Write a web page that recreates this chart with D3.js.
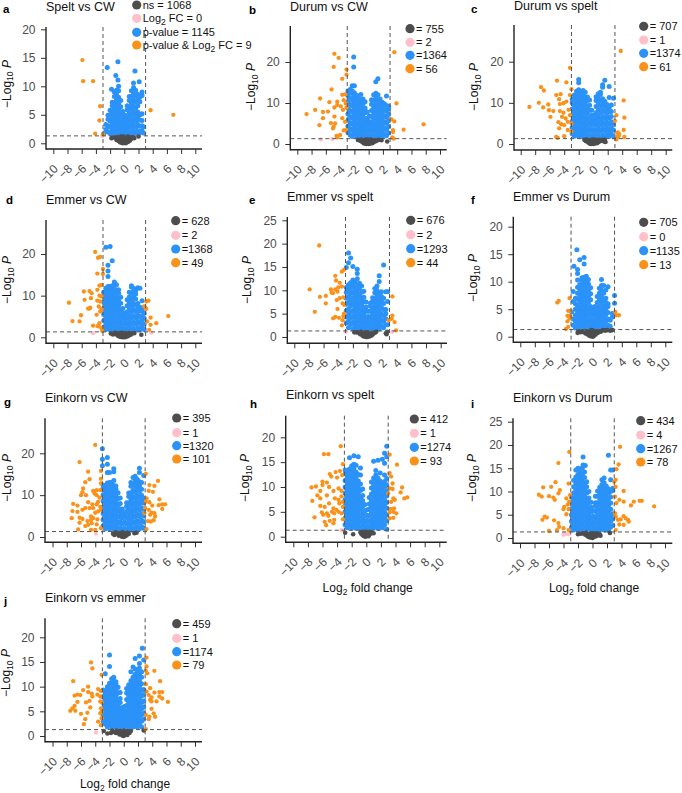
<!DOCTYPE html>
<html><head><meta charset="utf-8">
<script src="https://cdn.jsdelivr.net/npm/d3@7"></script>
<style>html,body{margin:0;background:#fff}svg{display:block}text{font-family:"Liberation Sans",Arial,sans-serif}</style>
</head><body><svg id="c" width="682" height="793"></svg>
<script>
// ---------- data: panel labels ----------
const letters=["a","b","c","d","e","f","g","h","i","j"];
const titles=["Spelt vs CW","Durum vs CW","Durum vs spelt","Emmer vs CW","Emmer vs spelt","Emmer vs Durum","Einkorn vs CW","Einkorn vs spelt","Einkorn vs Durum","Einkorn vs emmer"];
const countsNs=["1068","755","707","628","676","705","395","412","434","459"];
const countsFc=["0","2","1","2","2","0","1","1","4","1"];
const countsP=["1145","1364","1374","1368","1293","1135","1320","1274","1267","1174"];
const countsBoth=["9","56","61","49","44","13","101","93","78","79"];
const xTicks=[-10,-8,-6,-4,-2,0,2,4,6,8,10];
const yTicksA=[0,5,10,15,20],yTicksB=[0,10,20],yTicksE=[0,5,10,15,20,25],yTicksH=[0,5,10,15,20];
const fcCut=3,pCut=1.3;

// ---------- data: blue columns, [log2FC, -log10P, -log10P, ...] ----------
const blueA=[[-2.9,1.7],[-2.6,2.4,3.3],[-2.4,13.3],[-2.3,2,3.1,4.2,4.9],[-2,1.7,2.8,3.9,5,5.8],[-1.8,9.5],[-1.7,2.2,3.3,4.4,5.5,6.6,7.2],[-1.4,1.6,2.7,3.8,4.9,6,7.1,8.2,9],[-1.2,11.9],[-1.1,2.1,3.2,4.3,5.4,6.5,7.6,8.7,9.3],[-.9,11.1,14.3],[-.8,1.5,2.6,3.7,4.8,5.9,7,8.1,9.2,10],[-.5,2,3.1,4.2,5.3,6.4,7.5],[-.2,1.5,2.6,3.7,4.8,5.6],[.1,2,3.1,4.2,4.9],[.4,1.5,2.6,3.7,4.8,5.9,6.6],[.7,2,3.1,4.2,5.3,6.4,7.5,8.2],[1,1.6,2.7,3.8,4.9,6,7.1,8.2,9.2],[1.3,2.1,3.2,4.3,5.4,6.5,7.6,8.7,9.8,10.6],[1.5,12.7],[1.6,1.7,2.8,3.9,5,6.1,7.2,8.3,9.3],[1.9,2.2,3.3,4.4,5.5,6.6,7.7,8.6],[2.1,10.8],[2.2,1.9,3,4.1,5,7.3,8.1],[2.5,2.2,3.1,4,5.2,8.4,9],[2.7,1.8,2.9]];
const blueB=[[-2.9,2.8,4.3,5.8,7.3,8.8,10.3,11.8,12.9],[-2.6,2.2,3.7,5.2,6.7,8.2,9.7,11.2,12.7,13.3],[-2.3,1.8,3.3,4.8,6.3,7.8,9.3,10.8,12.3,13,14.2],[-2.1,18.8,21.2],[-2,2.5,4,5.5,7,8.5,10,11.5,12.5,14.2],[-1.7,1.8,3.3,4.8,6.3,7.8,9.3,10.8,11.9],[-1.4,2.4,3.9,5.4,6.9,8.4,9.9,11.1],[-1.1,1.7,3.2,4.7,6.2,7.7,9.2,10.7,12.1],[-.8,2.3,3.8,5.3,6.8,8.3,9.8,11],[-.5,1.6,3.1,4.6,6.1,7.6,8.8,10.3],[-.2,2.2,3.7,5.2,6.3,7.8],[.1,1.6,3.1,4.6,5.5,6.8],[.4,2.2,3.7,5.2,6.7,8.2,9.7,10.8],[.7,1.6,3.1,4.6,6.1,7.6,9.1,10.6,12],[1,2.2,3.7,5.2,6.7,8.2,9.7,11.2,12.4,15.2],[1.3,1.6,3.1,4.6,6.1,7.6,9.1,10.6,12,15.9],[1.6,2.3,3.8,5.3,6.8,8.3,9.8,11],[1.9,1.7,3.2,4.7,6.2,7.7,9.2,10.2],[2.2,2.4,3.9,5.4,6.9,8.4,9.8],[2.5,2,3.5,5,6.5,8,9.4,11.7],[2.8,2.7,4.2,5.7,7.2,8.6,9.2]];
const blueC=[[-2.9,2.5,4,5.5,7,8.5,10,10.9],[-2.6,1.9,3.4,4.9,6.4,7.9,9.4,10.9,11.9],[-2.3,2.6,4.1,5.6,7.1,8.6,10.1,11.6,12.8],[-2,1.8,3.3,4.8,6.3,7.8,9.3,10.8,12.3,13.2,14.9,15.7],[-1.7,2.4,3.9,5.4,6.9,8.4,9.9,11.4,12.5],[-1.4,1.7,3.2,4.7,6.2,7.7,9.2,10.7,12,13],[-1.1,2.3,3.8,5.3,6.8,8.3,9.8,11.3,12.6],[-.8,1.6,3.1,4.6,6.1,7.6,9.1,10.6,11.4],[-.5,2.2,3.7,5.2,6.7,8.2,9.4,10.7],[-.2,1.6,3.1,4.6,6,7,8.2],[.1,2.1,3.6,5.1,5.9,7],[.4,1.6,3.1,4.6,6.1,7.6,9.1,10.6,11.5],[.7,2.2,3.7,5.2,6.7,8.2,9.7,11.2,12.2],[1,1.6,3.1,4.6,6.1,7.6,9.1,10.6,12,12.6],[1.3,2.2,3.7,5.2,6.7,8.2,9.7,11,13.8,14.4],[1.6,1.7,3.2,4.7,6.2,7.7,9.2,10.4,15.5],[1.9,2.3,3.8,5.3,6.8,8.3,9.6],[2.2,1.8,3.3,4.8,6.3,7.8,8.8,11.3,14],[2.5,2.4,3.9,5.4,6.7,7.9,9.5],[2.8,1.9,3.4,4.8,11.1]];
const blueD=[[-2.9,2.5,4,5.5,7,8.5,9.9,10.8],[-2.6,1.9,3.4,4.9,6.4,7.9,9.4,10.9,11.8,21.6],[-2.3,2.6,4.1,5.6,7.1,8.6,10.1,11.6,12.2,14.6,15.9,17.3],[-2,1.8,3.3,4.8,6.3,7.8,9.3,10.8,12.2,21.8],[-1.7,2.4,3.9,5.4,6.9,8.4,9.9,11.4,12.4,18.4],[-1.4,1.7,3.2,4.7,6.2,7.7,9.2,10.7,12.2,13.3],[-1.1,2.3,3.8,5.3,6.8,8.3,9.8,11.3,12.6],[-.8,1.6,3.1,4.6,6.1,7.6,9.1,10.6,11.4],[-.5,2.2,3.7,5.2,6.7,8.2,9.6],[-.2,1.6,3.1,4.6,5.9,6.9],[.1,2.1,3.4,4.3,5.2],[.4,1.6,3.1,4.6,6.1,7.6,9],[.7,2.2,3.7,5.2,6.7,8.2,9.7,10.8],[1,1.6,3.1,4.6,6.1,7.6,9.1,10.6,12.1,12.4],[1.3,2.2,3.7,5.2,6.7,8.2,9.7,11,11.8],[1.6,1.7,3.2,4.7,6.2,7.7,9.2,10.4,11.2],[1.9,2.3,3.8,5.3,6.8,8.1,11.9],[2.2,1.8,3.3,4.8,6.3,7.2,11.8],[2.5,2.4,3.9,5.2,6.5,8.8],[2.8,1.9,3.2,4.6,5.8,7.2]];
const blueE=[[-2.9,3,4.3,5.6,7,8.3,9.6,10.6,14.9],[-2.6,2,3.4,4.7,6,7.4,8.7,10,11.2,15.9,18],[-2.3,2.7,4,5.3,6.7,8,9.3,10.6,11.6,16.9],[-2,1.7,3.1,4.4,5.7,7.1,8.4,9.7,11,12.2,15.1],[-1.7,2.3,3.6,5,6.3,7.6,9,10.3,11.8],[-1.4,1.6,3,4.3,5.6,7,8.3,9.6,11,12.5,13.6,14.5],[-1.1,2.3,3.6,4.9,6.3,7.6,8.9,10.3,11.5],[-.8,1.6,3,4.3,5.6,7,8.3,9.6,10.9],[-.5,2.2,3.6,4.9,6.2,7.6,8.5,9.8],[-.2,1.6,2.9,4.2,5.5,6.4,7.5],[.1,2.2,3.4,4.4,5.5],[.4,1.6,2.9,4.2,5.5,6.6,7.3],[.7,2.2,3.6,4.9,6.2,7.6,8.4],[1,1.6,2.9,4.2,5.5,6.9,8.2,9.5,10.4],[1.3,2.3,3.6,4.9,6.3,7.6,8.9,10,10.9],[1.6,1.7,3,4.3,5.6,7,8.3,9.5,11.9,13.1],[1.9,2.4,3.7,5,6.3,7.6,8.7,9.7],[2.2,2,3.3,4.6,5.9,7.2,8.3,15.4],[2.5,2.6,3.9,5,5.9,9.7],[2.75,2.6,7.6,9.7]];
const blueF=[[-2.9,4.5],[-2.7,2.1,3.2,6.4,8.2],[-2.6,12.8],[-2.4,1.6,2.8,3.9,5,6,7],[-2.2,15.8],[-2.1,2.2,3.3,4.5,5.6,6.8,7.9,9,10.3,11.5,12.2],[-1.8,1.7,2.8,4,5.1,6.3,7.4,8.6,9.5,14],[-1.5,2.2,3.4,4.5,5.7,6.8,8,9.1,10.2,10.7],[-1.2,1.6,2.8,3.9,5.1,6.2,7.4,8.5,9.7,10.8,13.2,14.4],[-.9,2.2,3.3,4.5,5.6,6.8,7.9,9.1,10.2,11],[-.6,1.6,2.7,3.9,5,6.2,7.3,8.5,9.6,10.4],[-.3,2.1,3.2,4.4,5.5,6.7,7.8,8.9],[0,1.6,2.7,3.9,5],[.3,2.1,3.2,4.4,5.5],[.6,1.6,2.7,3.9,5,6.2,7.3],[.9,2.1,3.3,4.4,5.6,6.7,7.9,8.8],[1.2,1.6,2.7,3.9,5,6.2,7.3,8.5,9.3,10.4],[1.5,2.2,3.3,4.5,5.6,6.8,7.9,9.3],[1.8,1.7,2.8,4,5.1,6.2,7,8.5],[2.1,2.1,3.2,4.4,5.5,6,9.1],[2.4,1.9,3],[2.7,3.6,4.2],[3,6.1,7.5]];
const blueG=[[-3,17,18.6,21.1],[-2.9,2.6,4.1,5.6,7.1,8.6,10.1,11.6,12.4],[-2.6,2,3.5,5,6.5,8,9.5,11,12.3],[-2.3,2.7,4.2,5.7,7.2,8.7,10.2,11.7,12.9,15.4,17.4,19],[-2,1.9,3.4,4.9,6.4,7.9,9.4,10.9,12.4,13,15.4],[-1.7,2.5,4,5.5,7,8.5,10,11.5,13],[-1.4,1.8,3.3,4.8,6.3,7.8,9.3,10.8,12.3,13.5,15.6,16.3],[-1.1,2.4,3.9,5.4,6.9,8.4,9.9,11.4,12.2],[-.8,1.7,3.2,4.7,6.2,7.7,9.2,10.6],[-.5,2.2,3.7,5.2,6.7,8,9.3],[-.2,1.6,3.1,4.6,5.9,6.7],[.1,2.1,3.6,4.8,5.6],[.4,1.6,3.1,4.6,6.1,7.3,8.2],[.7,2.2,3.7,5.2,6.7,8.2,9.7,10.5],[1,1.6,3.1,4.6,6.1,7.6,9.1,10.6,12.1,13],[1.3,2.2,3.7,5.2,6.7,8.2,9.7,11.2,12.7,14.2],[1.6,1.7,3.2,4.7,6.2,7.7,9.2,10.7,12.2,13.7,14.5],[1.9,2.4,3.9,5.4,6.9,8.4,9.9,11.4,12.9,13.8],[2.2,1.9,3.4,4.9,6.4,7.9,9.4,10.9,12.2,13.2,15.4,16.4],[2.5,2.5,4,5.5,7,8.5,10,11.4,13],[2.8,2.1,3.6,5.1,6.6,8.1,9.2,14.7]];
const blueH=[[-2.9,2.4,3.7,5,6.2,7.5,8.8,10,11.3,12.6,13.4],[-2.6,1.8,3,4.3,5.6,6.8,8.1,9.4,10.6,11.9,13.1],[-2.3,2.4,3.6,4.9,6.2,7.4,8.7,10,11.2,12.5,13.6,15.9],[-2,1.7,3,4.3,5.5,6.8,8.1,9.3,10.6,11.9,13.1,14.3],[-1.7,2.3,3.6,4.9,6.1,7.4,8.7,9.9,11.2,12.5,13.7,14.6,16.3],[-1.4,1.7,3,4.3,5.5,6.8,8,9.3,10.6,11.8,13,14.4],[-1.1,2.3,3.6,4.9,6.1,7.4,8.7,9.9,11.2,12.5,16.1],[-.8,1.7,3,4.2,5.5,6.8,8,9.3,10.6,12.4,13.8],[-.5,2.3,3.5,4.8,6.1,7.3,8.3,9.6],[-.2,1.7,2.9,4.2,5.2,6.5],[.1,2.1,3.3,4.3,5.4],[.4,1.7,2.9,4.2,5.5,6.6,7.9],[.7,2.3,3.5,4.8,6.1,7.3,8.6,9.8,11],[1,1.7,2.9,4.2,5.5,6.7,8,9.3,10.5,11.8,15.2],[1.3,2.3,3.6,4.8,6.1,7.4,8.6,9.9,11.2,12.4,13.3],[1.6,1.7,3,4.2,5.5,6.8,8,9.3,10.6,11.8,15.4],[1.9,2.3,3.6,4.9,6.1,7.4,8.6,9.9,11.2,12.8],[2.2,1.8,3,4.3,5.6,6.8,8.1,9.4,10.6,15.6],[2.5,2.4,3.7,4.9,6.2,7.4,8.7,10,11.1,12.4,14.8,16.8],[2.8,1.5,3.2,4.4,5.7,6.9,8.2,9.2,10.4,11.7,16.1,18.2]];
const blueI=[[-2.9,2.3,3.6,5,6.3,7.7,8.8],[-2.6,1.7,3,4.3,5.7,7,8.4,9.7,11,12.4],[-2.3,2.3,3.7,5,6.4,7.7,9,10.4,11.7,13.1,14.6],[-2,1.7,3,4.3,5.7,7,8.4,9.7,11,12.4,13.7,15],[-1.7,2.3,3.7,5,6.4,7.7,9,10.4,11.7,13.1,14.4,14.9],[-1.4,1.7,3,4.3,5.7,7,8.4,9.7,11,12.4,13.7,15],[-1.3,15.7,17.4],[-1.1,2.3,3.7,5,6.4,7.7,9,10.4,11.7,13,14.2],[-1,15.6],[-.8,1.7,3,4.3,5.7,7,8.4,9.7,11,12.1],[-.5,2.3,3.6,4.9,6.3,7.6,8.6,10],[-.2,1.7,3,4.3,5.6,6.6,7.7],[.1,2.2,3.5,4.7,5.9],[.4,1.7,3,4.3,5.7,6.9,7.6,9],[.7,2.3,3.6,4.9,6.3,7.6,9,10.1],[1,1.7,3,4.3,5.7,7,8.4,9.7,10.9],[1.3,2.3,3.6,5,6.3,7.7,9,10.4,11.5,12.5],[1.6,1.7,3,4.3,5.7,7,8.4,9.7,11,11.9,12.9],[1.9,2.3,3.6,5,6.3,7.7,9,10.4,11.2],[2.2,1.7,3,4.3,5.7,7,8.4,9.7,10.6,17.8],[2.5,2.3,3.6,4.9,6.2,7.5,8.8,10,12.5,14.6],[2.8,2.7,4.1,5.2,10.2,10.7,14.6]];
const blueJ=[[-2.9,3,4.3,5.5,6.8,8,9.3],[-2.6,2.4,3.6,4.9,6.2,7.4,8.7,12.6],[-2.3,1.8,3,4.3,5.5,6.8,8.1,9.3,10],[-2,2.4,3.6,4.9,6.2,7.4,8.7,10,10.7,14.1,16.4],[-1.7,1.8,3,4.3,5.5,6.8,8.1,9.3,10.6,11.6],[-1.4,2.4,3.6,4.9,6.2,7.4,8.7,10,11.2,11.9],[-1.1,1.8,3,4.3,5.5,6.8,8.1,9.3,10.6,11],[-.8,2.4,3.6,4.9,6.2,7.4,8.7,9.9],[-.5,1.8,3,4.3,5.5,6.8,7.6,8.8],[-.2,2.4,3.6,4.8,5.8],[.1,1.8,3,4.2,5.2,6],[.4,2.4,3.6,4.9,6.2,7.4,8.7,9.6],[.7,1.8,3,4.3,5.5,6.8,8.1,9.3,10.4],[1,2.4,3.6,4.9,6.2,7.4,8.7,10,11.2,13],[1.3,1.8,3,4.3,5.5,6.8,8.1,9.3,10.6,11.9,14],[1.6,2.4,3.6,4.9,6.2,7.4,8.7,10,11.2,12.5,13.6,15.7],[1.9,1.8,3,4.3,5.5,6.8,8.1,9.3,10.6,11.9,13.2],[2.2,2.4,3.6,4.9,6.2,7.4,8.7,10,11.2,12.5,13.8,14.7,16.2],[2.5,1.8,3,4.3,5.5,6.8,8.1,9.3,10.6,11.9,13],[2.6,17.8],[2.8,3.4,4.6,5.9,7.1,8.4,9.4,15.4]];

// ---------- data: orange points ----------
const orangeA=[[-5.9,14.6],[-5.8,10.9],[-4.4,10.9],[-3.4,6.5],[-3.5,4],[-4.1,1.7],[-3,1.6],[3.7,5.8],[6.9,5]];
const orangeB=[[-4.8,22],[-4.2,21],[-4.9,18.8],[-3.1,18.2],[-3.1,16.9],[-3.7,15.9],[-5.2,13.3],[-6.8,11.1],[-5.5,10.2],[-7.5,8.3],[-8.7,7.3],[-6.4,7.8],[-5.7,7.9],[-6.4,6.3],[-6.9,4.6],[-5.3,5.1],[-4.7,5],[-4.8,6.7],[-4.8,8.9],[-4.4,10.3],[-4.4,9.5],[-3.9,9.2],[-3.2,9.9],[-3.7,12],[-3.3,12.1],[-3.5,10.7],[-3.1,8.9],[-3.6,8.3],[-3.7,6.3],[-3.3,5.4],[-3.5,3.3],[-3.2,3.4],[-4.5,2],[-4,2.2],[-4.4,1.6],[-4.9,4.2],[-5,3.8],[3.6,22.4],[3.9,9.9],[3.2,6],[3.6,5.5],[3.4,3.4],[3.4,2.9],[3.3,1.6],[3.5,1.3],[4.9,3.5],[7.7,4.8]];
const orangeC=[[3.8,22.6],[-3.2,18.5],[-5,15.4],[-3.7,15],[-7.2,13.8],[-6.8,13],[-3,13.3],[-3.2,11.9],[-4.5,12.1],[-5.1,11.9],[-4.7,10.9],[-7.5,10],[-8.8,9],[-6.9,8.9],[-6.2,9.6],[-6.1,8.2],[-5.5,8],[-5.9,6.6],[-4.6,9.7],[-4.1,9.9],[-3.7,10.3],[-4.6,8],[-4.1,7.6],[-3.4,8.3],[-4.3,6.6],[-3.8,6.2],[-3.2,7],[-4.8,5.3],[-4.4,4.8],[-4,4.6],[-3.5,5.4],[-3,5],[-4.7,3.8],[-3.5,3.4],[-3,3],[-5.1,1.7],[-4.9,1.5],[-4,1.9],[4.2,10.6],[4.3,6.4],[3.2,7],[3,5.6],[4.2,3.4],[4.3,1.7],[3.4,2.8],[3.6,2.4],[3.3,1.9],[3.5,1.8],[3.2,1.1]];
const orangeD=[[-4.1,20.5],[-3.7,19.1],[-3.4,19.3],[-3,16.4],[-3.8,15.3],[-3,15.2],[-3.5,12.4],[-3.2,12.6],[-3.8,11.4],[-5.7,11],[-4.9,11.1],[-4.6,10.6],[-4.7,9.4],[-5.6,9],[-3.5,10],[-3.2,9.8],[-3.8,8.8],[-3.4,8.6],[-4.8,7.1],[-5.1,6.9],[-4.9,6.9],[-7.8,8.3],[-3.6,7.4],[-3.2,6.8],[-3.4,6.2],[-3.9,5.4],[-6.1,5.3],[-6.3,3.8],[-7.3,3.9],[-4.4,2.8],[-3.8,2.7],[-3.5,3.4],[-3.6,2.6],[-3.2,2.2],[-3.1,1.5],[3.4,8.8],[3.1,8.6],[3.1,6.8],[2.8,7.4],[3.7,4.7],[3.2,3.8],[3.7,3],[4.5,3.4],[3.5,1.8],[6.2,5.1]];
const orangeE=[[-6.6,19.6],[-7.9,10.2],[-6.5,8.6],[-5.7,8.8],[-7.2,5.4],[-5.7,7.2],[-3.5,14],[-3.2,14.4],[-4.4,13.1],[-4.3,12.1],[-3.8,11.6],[-3.5,10.8],[-4,10.6],[-4.4,10.2],[-5,10.2],[-4.7,9.4],[-4.9,9.5],[-4.1,9.7],[-3.3,8.5],[-3.8,8.3],[-4.2,7.9],[-3.4,7.2],[-3.2,6.9],[-4.1,6],[-3.2,5],[-4.7,4],[-4.4,4.3],[-3.9,4.1],[-3.3,4.5],[-3.4,3.6],[-3.5,2.5],[3.4,8.7],[3.4,4.6],[2.9,3.6],[3.3,3.9],[3.7,3.2],[3.9,1.4]];
const orangeF=[[-4.9,6.2],[-4.7,6.5],[-3.2,7],[-3.4,4.7],[-3.1,4.7],[-3.5,3.8],[-3.1,3.8],[-3.2,3.3],[-3.5,2.8],[-3.4,1.8],[-3.7,1.4],[3.1,4.5],[3.2,3.9],[3.6,3.9]];
const orangeG=[[-4,22],[-6.2,17.9],[-5,15.6],[-3.2,15.8],[-3.2,13.9],[-3.2,12.8],[-4.8,13.8],[-5.4,13.1],[-4.3,11],[-3.8,11.2],[-3.3,11.2],[-5.7,11.6],[-5.8,10.7],[-6,10],[-5.3,10],[-3.8,10],[-3.4,9.4],[-4.1,10.4],[-7.1,7.9],[-6.5,7.5],[-5,8.3],[-4.4,7.8],[-3.8,7.8],[-3.6,8.4],[-3.3,7.2],[-7.2,6.2],[-6.5,6],[-5.8,6.5],[-5.4,6.9],[-4.8,6.9],[-4.3,6.9],[-4,5.8],[-3.6,6.1],[-3.2,6.5],[-7.3,4.5],[-6.2,4.6],[-5.8,4.3],[-4.6,4.9],[-5.1,3.8],[-4.6,4.1],[-4.3,4.5],[-3.7,4.2],[-6.2,3.4],[-5.4,2.6],[-5,2.9],[-4.5,3.3],[-3.8,3],[-6.4,1.8],[-4.6,1.7],[-4,1.7],[-3.2,2.1],[3.1,15.1],[3.6,12.4],[4.3,12.2],[4.8,13.4],[3.5,11],[4.1,10.8],[3.2,9.2],[3.6,8.3],[3.1,8.4],[5,9],[5.4,7.8],[5.8,7.8],[5.4,6.7],[4.9,7.6],[4,7.5],[3.5,6.5],[3,6.9],[2.9,5.7],[3.9,5.8],[3.7,5.3],[4.4,4.9],[4.2,4],[3.8,3.7],[3.4,3.8],[3.2,1.9],[4.3,5.7]];
const orangeH=[[-3.5,18.2],[-5.8,16.6],[-5.2,16.6],[-3.2,14.6],[-5,12.6],[-4.8,12.1],[-4.2,13],[-3.6,13.2],[-3.3,12.4],[-4,11.9],[-6,11.1],[-5.4,10.9],[-6.9,10.1],[-7.5,9.9],[-6,10.4],[-5.1,10],[-6.3,9.2],[-6.7,8.3],[-5.4,8.3],[-7.4,7.2],[-6.3,7.7],[-4.5,9.2],[-3.8,9.7],[-3.4,9.2],[-4.3,7.7],[-3.8,7.4],[-3.4,8.1],[-3.2,7],[-3.7,6.7],[-6.3,6.2],[-5.7,6],[-5.1,6.7],[-4.5,5.7],[-4.1,5.4],[-3.2,6],[-6.1,4.9],[-5.4,4.7],[-4.7,5],[-7.1,3.9],[-5.2,4.2],[-5.9,4.4],[-4.4,4.7],[-3.8,5],[-3.4,4.7],[-5.7,3],[-5,3.2],[-4.4,3.4],[-5.5,2.3],[-4.5,2.7],[-3.2,3.5],[3.2,16.5],[4.2,14.5],[3.2,12.8],[3.4,12.1],[3.6,10.7],[4.9,9.9],[4.7,8.9],[5.2,7.7],[5.6,7.9],[3.2,9.7],[3.6,9.6],[3.7,7.7],[3.4,7],[3.9,7.4],[3,8.7],[3.3,5.6],[3.8,5.7],[3.2,4.9],[3.7,5],[4.1,4.7],[3.7,3.8],[3.2,3.7]];
const orangeI=[[-3.2,18.5],[-4.7,16.1],[-3.3,11.7],[-5.1,12],[-6.8,10.9],[-5.7,11],[-7.4,9.3],[-7,8.9],[-6,9],[-5.4,8.7],[-5.2,8.2],[-4.5,10.3],[-4.7,9.6],[-3.1,9.2],[-3.6,8.5],[-3.2,7.8],[-3.9,6.7],[-4,6.2],[-3.4,7.2],[-3.3,6.2],[-3.6,5.1],[-6.6,4.6],[-6.9,3.9],[-6.3,4.4],[-5.3,3.8],[-4.7,3.2],[-6,1.5],[-4.9,1.7],[-4.6,2.4],[-4,2.1],[-3.3,1.7],[3.8,19.6],[3.6,15.8],[3.3,14.8],[3.2,12.5],[3,12.1],[3.2,11],[4.3,10.1],[3.1,8.9],[3.7,8.2],[4.3,7.8],[3.3,7.5],[5.3,7],[5.7,7.8],[6.5,8],[6.8,8],[8.5,6.8],[3.1,5.3],[3.2,4.6],[4.3,4.7],[4.6,4.2],[4.9,3.9],[3.5,3.9],[3.9,4],[5,3.5],[3.7,2.9],[4.3,2.8],[3.2,1.7]];
const orangeJ=[[-4.6,14.9],[-4.4,13.7],[-3.1,12.4],[-7.1,11.1],[-5,10],[-5.7,9.3],[-5,8.9],[-4.5,8.6],[-4.4,8],[-6.1,8.3],[-6.5,8.4],[-6.9,8.2],[-3.6,9.5],[-3.2,9.1],[-3.7,8.4],[-3.3,8],[-6.5,6.9],[-5.3,6.8],[-4.8,7.1],[-3.3,7],[-3.1,6.8],[-6.9,6.1],[-7.2,5.6],[-7.5,5.1],[-6.8,5.1],[-4.7,5.8],[-6,4.5],[-5.1,4.7],[-3.2,5.6],[-3.3,4.6],[-3.1,4.9],[-5.4,3.4],[-5.6,2.4],[-3.6,2.9],[-3.1,3.6],[-3.2,2.2],[3.2,15.9],[4.3,13.2],[3.2,14.1],[3.1,13.2],[3.3,12.7],[5.1,11.1],[3.1,10.5],[3.7,9.7],[3.2,9],[4.3,8.8],[5,8.9],[5.4,8.9],[3.5,8.3],[3.9,7.8],[5,8],[5.4,7.6],[4.6,7],[6.2,6.9],[3.7,7.3],[3.9,7],[3.9,5.5],[4.2,4.6],[4.4,3.9],[3.1,4.3],[3.6,3.9],[3.5,3.4],[3.1,1.4]];

// ---------- data: pink points ----------
const pinkA=[[-3.1,1.3]],pinkB=[[-6.7,1.1],[-5.1,1.2]],pinkC=[[3.1,1.1]],pinkD=[[-4.4,1],[3.8,1.1]],pinkE=[[-3,1.1],[3.4,1.1]],pinkF=[],pinkG=[[-3.9,.8]],pinkH=[[-3.4,1.3]],pinkI=[[-3.9,.9],[-3.6,.9],[-3.3,.8],[-4,.7]],pinkJ=[[-3.9,.7]];

// ---------- data: grey points ----------
const grayA=[[-1.8,.9],[-1.4,1],[-1.1,.6],[-1,1.1],[-.8,.4],[-.8,.9],[-.6,.2],[-.6,.7],[-.5,1.2],[-.4,.1],[-.4,.5],[-.3,.9],[-.2,0],[-.2,.4],[-.1,1.2],[0,.1],[0,.5],[0,.9],[.2,0],[.2,.4],[.3,.9],[.4,.2],[.4,.6],[.5,1.2],[.6,.3],[.7,.7],[.8,.5],[.9,1],[1,.8],[1.2,1.1],[1.4,.9],[2,1.2]];
const grayB=[[-1.5,1],[-1.2,.8],[-1,1.1],[-.9,.5],[-.7,.2],[-.7,.8],[-.5,.1],[-.5,.6],[-.4,1.1],[-.3,0],[-.2,.5],[-.2,1],[0,0],[0,.5],[0,1],[.2,.1],[.2,.6],[.3,1.1],[.5,.2],[.5,.7],[.7,.4],[.8,.9],[1,.7],[1.2,.9],[1.4,1],[1.8,.9],[2.6,.6]];
const grayC=[[-1.2,1],[-1,.7],[-.9,1.1],[-.7,.4],[-.6,.9],[-.5,.1],[-.5,.6],[-.3,0],[-.3,.5],[-.2,1],[0,0],[0,.5],[0,1.1],[.2,.1],[.2,.6],[.3,1],[.5,.2],[.5,.7],[.7,.4],[.8,1],[1,.7],[1.2,1],[1.5,.6],[1.6,1],[1.7,.5]];
const grayD=[[-1.9,.9],[-1.6,.7],[-1.3,1.1],[-1.1,.7],[-.9,.4],[-.9,1],[-.7,.2],[-.7,.7],[-.5,.1],[-.5,.6],[-.4,1.1],[-.2,0],[-.2,.5],[-.1,1],[.1,.0],[.1,.5],[.2,1],[.4,.2],[.4,.7],[.6,.4],[.7,1],[.9,.6],[1.1,.9],[1.4,1],[2.4,.6]];
const grayE=[[-1.8,1],[-1.5,1],[-1.2,.9],[-1,.6],[-.9,1.1],[-.7,.3],[-.6,.8],[-.5,.1],[-.4,.5],[-.3,1],[-.2,0],[-.1,.5],[0,0],[0,1],[.2,.1],[.2,.6],[.4,.2],[.5,.8],[.6,.4],[.8,.7],[1,.9],[1.2,1.1],[2.5,.8],[2.7,1.1],[2.6,.6]];
const grayF=[[-2.1,.7],[-2,1],[-1.7,.8],[-1.5,1],[-1.3,.8],[-1,.6],[-.8,1],[-.7,.4],[-.5,.2],[-.5,.8],[-.3,.1],[-.3,.6],[-.2,1.2],[0,0],[0,.5],[0,1.1],[.2,.2],[.2,.8],[.4,.4],[.5,1],[.7,.7],[.9,1],[1.1,.9],[1.4,1.2],[1.7,1.1],[2,1.2],[2.4,1.1],[2.7,1.2]];
const grayG=[[-1.5,.8],[-1.3,.5],[-1.1,1.1],[-.9,.7],[-.7,.3],[-.6,.9],[-.5,.6],[-.3,.1],[-.3,.6],[-.2,1.1],[0,0],[0,.5],[0,1],[.2,.2],[.2,.7],[.4,.4],[.5,1],[.7,.7],[1.5,.9],[1.8,1]];
const grayH=[[-2.9,.8],[-1.8,.5],[-.8,.9],[-.7,.6],[-.5,.3],[-.5,1],[-.3,.1],[-.3,.6],[-.1,0],[-.1,.5],[0,1],[.1,.2],[.2,.7],[.3,.1],[.4,.4],[.5,1],[.6,.6],[.7,.9],[1,.7]];
const grayI=[[-2,.8],[-1.6,.9],[-1.3,1],[-1,.7],[-.9,1.1],[-.7,.4],[-.6,.8],[-.5,.2],[-.3,.1],[-.3,.6],[-.2,1],[0,0],[0,.5],[.1,1],[.2,.2],[.3,.7],[.5,.4],[.6,1],[.8,.6],[1,.8],[1.1,.5],[2.4,1.1]];
const grayJ=[[-2.3,.5],[-2.8,1],[-1.8,.6],[-1.6,1.1],[-1.4,.8],[-1.1,.6],[-1,1.1],[-.8,.7],[-.6,.3],[-.5,1],[-.4,.5],[-.2,.1],[-.1,.7],[0,0],[0,1.1],[.2,.3],[.3,.8],[.5,.2],[.5,1],[.8,.6],[1,1],[2.8,1.1]];

const blues=[blueA,blueB,blueC,blueD,blueE,blueF,blueG,blueH,blueI,blueJ];
const oranges=[orangeA,orangeB,orangeC,orangeD,orangeE,orangeF,orangeG,orangeH,orangeI,orangeJ];
const pinks=[pinkA,pinkB,pinkC,pinkD,pinkE,pinkF,pinkG,pinkH,pinkI,pinkJ];
const grays=[grayA,grayB,grayC,grayD,grayE,grayF,grayG,grayH,grayI,grayJ];
const yTicksAll=[yTicksA,yTicksB,yTicksB,yTicksB,yTicksE,yTicksA,yTicksB,yTicksH,yTicksE,yTicksH];

// ---------- layout (pixels) ----------
// axisX, axisTop, axisBottom, axisRight, x(-10), x(10), y(0), y(top tick)
const frames=[
 [46,27,149,202,53.3,195.3,143.3,29.3],
 [290.3,26,149.7,446.7,297.3,440,144,62],
 [514,25,150,672.3,520.7,665.7,144,61.7],
 [46,220,343.3,202,53.3,195.3,337.3,254],
 [287.3,217,343.3,447,294.3,440.7,337,220.3],
 [513.3,216.7,342.3,672.3,520.3,665.3,336.7,226.7],
 [45,418.3,542.3,202,52.5,195,537,453.3],
 [285.7,415.7,542.3,446.7,293.3,439.3,536.7,437.3],
 [513,418.3,543.3,672.3,520,665,538,421.7],
 [45,618.3,741.7,202,52.5,195,736,637.3]];
const letterPos=[[3,13],[249,14],[471,13],[6,204],[249,204],[471,204],[4,406],[250,408],[471,408],[4,605]];
const titlePos=[[46,11],[290,11],[514,10],[46,204],[287,201],[513,201],[45,402],[286,399],[513,402],[45,602]];
const yTitlePos=[[10.5,84],[255,87],[478,87],[11,280],[251,280],[477,278],[10.5,478],[249,478],[476,478],[10,673]];
const legendX=[136.7,410,643.7,175.7,410.7,643.7,176.7,414.3,640.7,176.7];
const legendY=[[5,18.3,32.3,45],[28.7,42.3,55.3,68.7],[26.3,40,53.3,66.7],[220.7,235.3,249,262.7],[220.3,234.7,248.7,262.7],[222.3,236.7,250.7,264.7],[418,432.7,445.7,459],[419,433.3,447.3,461],[420.7,435,448.7,462],[623.7,638.3,651.7,665]];
const xTitles=[null,null,null,null,null,null,null,[367.7,592],[594,592],[125,788]];
const colNs="#4d4d4d",colFc="#ffc0cb",colP="#2a92f8",colBoth="#fb9118";

const svg=d3.select("#c");
const sub=(t,s,after)=>{t.append("tspan").attr("dy",2.5).attr("font-size",8.5).text(s);
  t.append("tspan").attr("dy",-2.5).text(after);};

frames.forEach((f,i)=>{
  const [ax,top,bot,right,xa,xb,y0,yt]=f;
  const ticks=yTicksAll[i];
  const x=d3.scaleLinear([-10,10],[xa,xb]);
  const y=d3.scaleLinear([0,d3.max(ticks)],[y0,yt]);
  const g=svg.append("g");
  const pts=(data,col,r)=>g.append("g").selectAll("circle").data(data).join("circle")
    .attr("cx",d=>x(d[0])).attr("cy",d=>y(d[1])).attr("r",r).attr("fill",col);
  pts(pinks[i],colFc,2.15);
  pts(blues[i].flatMap(c=>c.slice(1).map(v=>[c[0],v])),colP,2.5);
  pts(grays[i],colNs,2.3);
  pts(oranges[i],colBoth,2.15);
  // thresholds
  const dash=g.append("g").attr("stroke","#555").attr("stroke-width",1).attr("stroke-dasharray","4 3").attr("fill","none");
  [-fcCut,fcCut].forEach(v=>dash.append("line").attr("x1",x(v)).attr("x2",x(v)).attr("y1",top).attr("y2",bot));
  dash.append("line").attr("x1",ax).attr("x2",right).attr("y1",y(pCut)).attr("y2",y(pCut));
  // axes
  const ga=g.append("g").attr("transform",`translate(0,${bot})`)
    .call(d3.axisBottom(x).tickValues(xTicks).tickSize(5).tickSizeOuter(0).tickFormat(d=>String(d).replace("-","\u2212")));
  ga.select(".domain").remove();
  ga.selectAll("line").attr("stroke","#333").attr("stroke-width",1);
  ga.selectAll("text").attr("font-size",12).attr("fill","#4d4d4d")
    .attr("text-anchor","end").attr("dy",null).attr("y",null)
    .attr("transform","translate(5,20.5) rotate(-45)");
  const gy=g.append("g").attr("transform",`translate(${ax},0)`)
    .call(d3.axisLeft(y).tickValues(ticks).tickSize(5).tickSizeOuter(0));
  gy.select(".domain").remove();
  gy.selectAll("line").attr("stroke","#333").attr("stroke-width",1);
  gy.selectAll("text").attr("font-size",12).attr("fill","#4d4d4d").attr("x",-10.5);
  g.append("line").attr("x1",ax).attr("x2",ax).attr("y1",top).attr("y2",bot+.7).attr("stroke","#222").attr("stroke-width",1.4);
  g.append("line").attr("x1",ax).attr("x2",right).attr("y1",bot).attr("y2",bot).attr("stroke","#222").attr("stroke-width",1.4);
  // texts
  g.append("text").attr("x",letterPos[i][0]).attr("y",letterPos[i][1]).attr("font-size",11.5).attr("font-weight","bold").text(letters[i]);
  g.append("text").attr("x",titlePos[i][0]).attr("y",titlePos[i][1]).attr("font-size",12.5).attr("fill","#111").text(titles[i]);
  const yt2=g.append("text").attr("transform",`translate(${yTitlePos[i][0]},${yTitlePos[i][1]}) rotate(-90)`)
    .attr("text-anchor","middle").attr("font-size",12).attr("fill","#111").text("\u2212Log");
  yt2.append("tspan").attr("dy",2.5).attr("font-size",8.5).text("10");
  yt2.append("tspan").attr("dy",-2.5).text(" ");
  yt2.append("tspan").attr("font-style","italic").text("P");
  if(xTitles[i]){
    const t=g.append("text").attr("x",xTitles[i][0]).attr("y",xTitles[i][1]).attr("text-anchor","middle").attr("font-size",12).attr("fill","#111").text("Log");
    sub(t,"2"," fold change");
  }
  // legend
  const lc=[colNs,colFc,colP,colBoth];
  const lv=[countsNs[i],countsFc[i],countsP[i],countsBoth[i]];
  lc.forEach((c,k)=>{
    g.append("circle").attr("cx",legendX[i]).attr("cy",legendY[i][k]).attr("r",4.6).attr("fill",c);
    const t=g.append("text").attr("x",legendX[i]+6).attr("y",legendY[i][k]+4).attr("font-size",11).attr("fill","#111");
    if(i===0){
      if(k===0) t.text("ns = "+lv[k]);
      if(k===1){t.text("Log");sub(t,"2"," FC = "+lv[k]);}
      if(k===2) t.text("p-value = "+lv[k]);
      if(k===3){t.text("p-value & Log");sub(t,"2"," FC = "+lv[k]);}
    } else t.text(lv[k].length>3?"="+lv[k]:"= "+lv[k]);
  });
});
</script></body></html>
